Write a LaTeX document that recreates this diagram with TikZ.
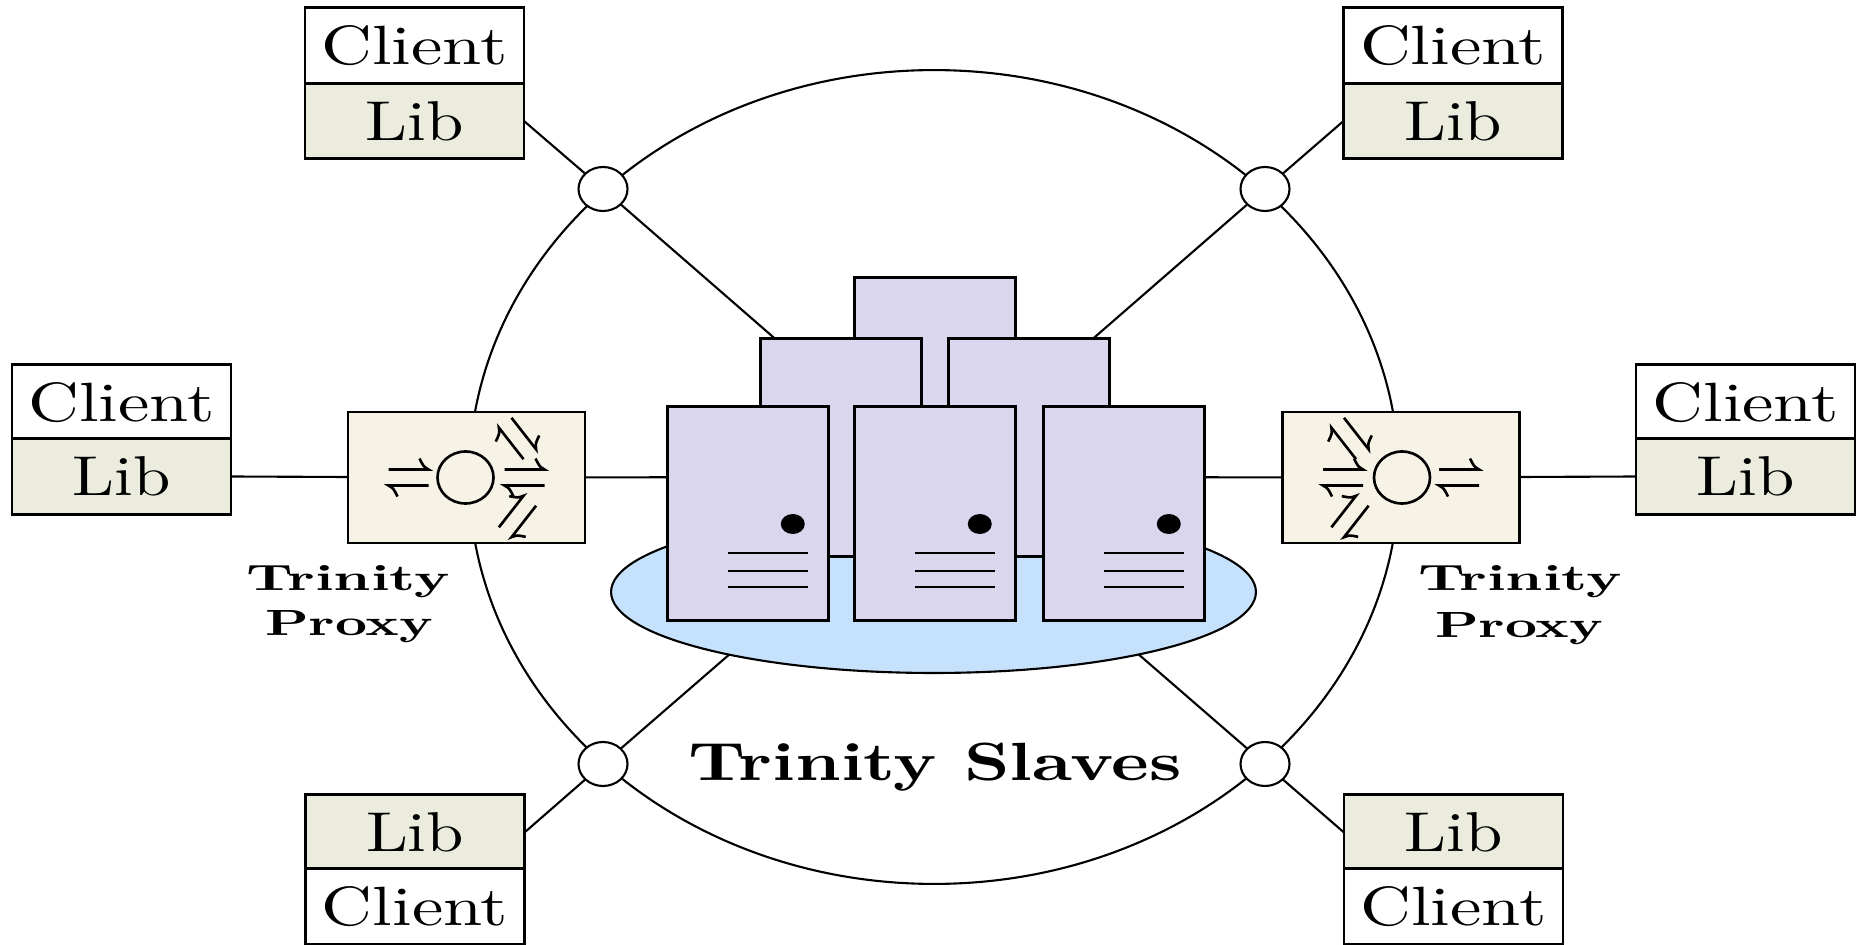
\documentclass[tikz,border=0pt]{standalone}
\usepackage{graphicx}
\usetikzlibrary{calc,shapes.geometric}

\definecolor{libfill}{RGB}{236,236,222}
\definecolor{proxyfill}{RGB}{246,243,230}
\definecolor{srvfill}{RGB}{218,214,238}
\definecolor{padfill}{RGB}{198,225,252}

% text forced to a given width and height
\newcommand\fitw[3]{\resizebox{#1}{#2}{#3}}
\newcommand\clienttxt{\fitw{3.72cm}{0.78cm}{Client}}
\newcommand\libtxt{\fitw{1.96cm}{0.78cm}{Lib}}

\begin{document}
\begin{tikzpicture}[x=0.02cm,y=-0.02cm,
  cell/.style={draw, line width=1.6pt, minimum width=4.38cm, minimum height=1.51cm,
               inner sep=0pt, outer sep=0pt},
  clientcell/.style={cell, fill=white},
  libcell/.style={cell, fill=libfill},
  link/.style={line width=1.2pt},
  hub/.style={draw, ellipse, line width=1.2pt, fill=white, inner sep=0pt,
              minimum width=0.98cm, minimum height=0.88cm},
  proxybox/.style={draw, line width=1.6pt, fill=proxyfill, inner sep=0pt,
                   minimum width=4.74cm, minimum height=2.62cm},
  backsrv/.style={draw, line width=1.6pt, fill=srvfill, inner sep=0pt, anchor=north west,
                  minimum width=3.22cm, minimum height=4.36cm},
  frontsrv/.style={draw, line width=1.6pt, fill=srvfill, inner sep=0pt, anchor=north west,
                   minimum width=3.22cm, minimum height=4.28cm},
  iconline/.style={line width=1.5pt},
  harp/.pic={
    \draw[iconline] (-20,-8) -- (20,-8) .. controls (15,-11) .. (11,-19);
    \draw[iconline] (20,8) -- (-20,8) .. controls (-15,11) .. (-11,19);
  }
]
\useasboundingbox (0,0) rectangle (1862,945);

\coordinate (core) at (934,477);

% client stacks
\node[clientcell] (tlC) at (414.5,45.5) {\clienttxt};
\node[libcell]    (tlL) at (414.5,121)  {\libtxt};
\node[clientcell] (trC) at (1453,45.5)  {\clienttxt};
\node[libcell]    (trL) at (1453,121)   {\libtxt};
\node[clientcell] (mlC) at (121.5,402.5) {\clienttxt};
\node[libcell]    (mlL) at (121.5,476.5) {\libtxt};
\node[clientcell] (mrC) at (1745.5,402.5) {\clienttxt};
\node[libcell]    (mrL) at (1745.5,476.5) {\libtxt};
\node[libcell]    (blL) at (415,832.5) {\libtxt};
\node[clientcell] (blC) at (415,906.5) {\clienttxt};
\node[libcell]    (brL) at (1453.5,832.5) {\libtxt};
\node[clientcell] (brC) at (1453.5,906.5) {\clienttxt};

% ring joining the access points
\node[draw, ellipse, line width=1.2pt, inner sep=0pt,
      minimum width=18.6cm, minimum height=16.28cm] (ring) at (core) {};

% hubs on the ring and the two proxies
\coordinate (h1) at (603,189);
\coordinate (h2) at (1265,189);
\coordinate (h3) at (603,764);
\coordinate (h4) at (1265,764);
\coordinate (lp) at (466.5,477.5);
\coordinate (rp) at (1401,477.5);

% spokes from the cluster out to the clients
\draw[link] (core) -- (h1) -- (tlL.east);
\draw[link] (core) -- (h2) -- (trL.west);
\draw[link] (core) -- (h3) -- (blL.east);
\draw[link] (core) -- (h4) -- (brL.west);
\draw[link] (core) -- (lp) -- (mlL.east);
\draw[link] (core) -- (rp) -- (mrL.west);

% hubs and proxies drawn over the spokes
\node[hub] (hub1) at (h1) {};
\node[hub] (hub2) at (h2) {};
\node[hub] (hub3) at (h3) {};
\node[hub] (hub4) at (h4) {};
\node[proxybox] (lproxy) at (lp) {};
\node[proxybox] (rproxy) at (rp) {};

% proxy symbols
\begin{scope}[shift={(lproxy.center)}]
  \draw[iconline] (-1,0) ellipse [x radius=28, y radius=26];
  \pic at (-58,0) {harp};
  \pic at (58,0) {harp};
  \pic[rotate=-52] at (51,-39) {harp};
  \pic[rotate=52] at (51,39) {harp};
\end{scope}
\begin{scope}[shift={(rproxy.center)}, xscale=-1]
  \draw[iconline] (-1,0) ellipse [x radius=28, y radius=26];
  \pic at (-58,0) {harp};
  \pic at (58,0) {harp};
  \pic[rotate=-52] at (51,-39) {harp};
  \pic[rotate=52] at (51,39) {harp};
\end{scope}

% platform under the slaves
\node[draw, ellipse, line width=1.2pt, fill=padfill, inner sep=0pt,
      minimum width=12.9cm, minimum height=3.24cm] (pad) at (933.5,592) {};

% server cabinets, back to front
\node[backsrv] (s1) at (853,276) {};
\node[backsrv] (s2) at (759,337) {};
\node[backsrv] (s3) at (947,337) {};
\node[frontsrv] (s4) at (666,405) {};
\node[frontsrv] (s5) at (853,405) {};
\node[frontsrv] (s6) at (1042,405) {};
\foreach \s in {s4,s5,s6}{
  \fill ($(\s.north east)+(-37,119)$) ellipse [x radius=12, y radius=10];
  \foreach \dy in {148,166,182}
    \draw[line width=1.4pt] ($(\s.north west)+(62,\dy)$) -- ++(80,0);
}

% labels
\node[anchor=base] (lpa) at (348,590) {\fitw{4.06cm}{0.5cm}{\bfseries Trinity}};
\node[anchor=base] (lpb) at (349,635) {\fitw{3.36cm}{0.5cm}{\bfseries Proxy}};
\node[anchor=base] (rpa) at (1520,590) {\fitw{4.06cm}{0.5cm}{\bfseries Trinity}};
\node[anchor=base] (rpb) at (1519,637) {\fitw{3.36cm}{0.5cm}{\bfseries Proxy}};
\node[anchor=base] (slv) at (935,780) {\fitw{9.86cm}{0.75cm}{\bfseries Trinity Slaves}};
\end{tikzpicture}
\end{document}
